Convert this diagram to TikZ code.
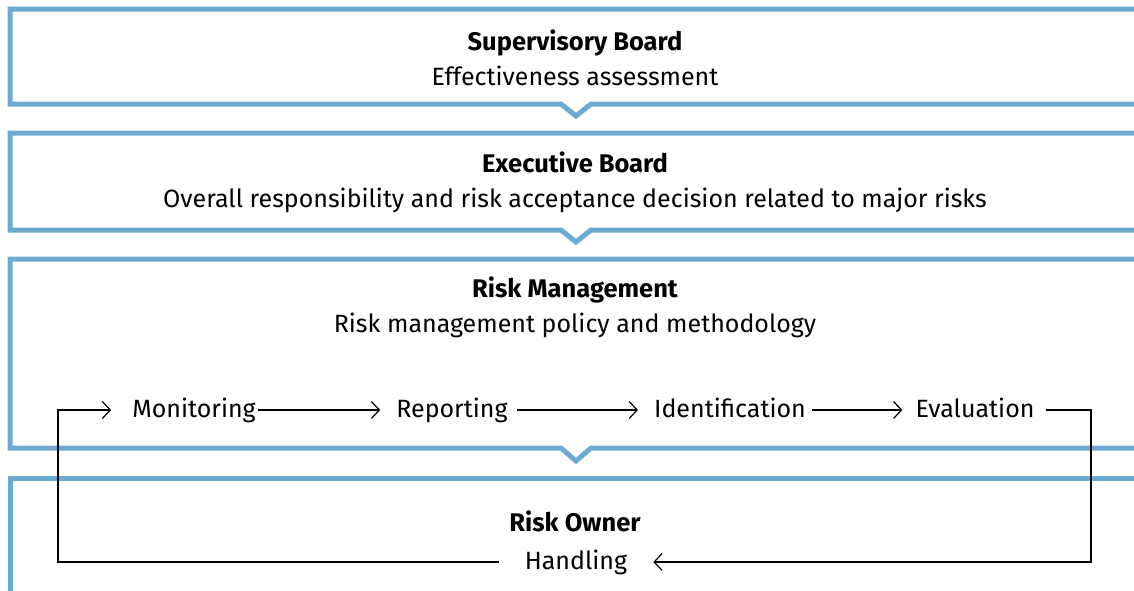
\documentclass[tikz,border=0pt]{standalone}
\usepackage{fontspec}
\setmainfont{Fira Sans}
\usepackage{xcolor}
\usetikzlibrary{positioning,arrows.meta}
\definecolor{bandblue}{RGB}{108,170,207}

\begin{document}
\begin{tikzpicture}[x=1pt,y=-1pt,font=\fontsize{25}{30}\selectfont,
  band/.style={draw=bandblue,line width=5pt},
  head/.style={font=\fontsize{25.5}{30}\selectfont\bfseries,inner sep=0pt,anchor=base},
  desc/.style={inner sep=0pt,anchor=base},
  stage/.style={inner sep=0pt,text height=18pt,text depth=4pt},
  flow/.style={-{Straight Barb[length=8pt,width=17pt]},line width=1.2pt}]
\useasboundingbox (0,0) rectangle (1134,590);
% layers
\draw[band] (1140,9) -- (10,9) -- (10,104) -- (561,104) -- (576,116) -- (591,104) -- (1140,104);
\draw[band] (1140,133) -- (10,133) -- (10,230) -- (561,230) -- (576,242) -- (591,230) -- (1140,230);
\draw[band] (1140,259) -- (10,259) -- (10,448) -- (561,448) -- (576,461) -- (591,448) -- (1140,448);
\draw[band] (1140,478) -- (10,478) -- (10,595);
% layer texts
\node[head] (sb) at (575,50) {Supervisory Board};
\node[desc] (sbtask) at (575,85) {Effectiveness assessment};
\node[head] (eb) at (575,172) {Executive Board};
\node[desc] (ebtask) at (575,207) {Overall responsibility and risk acceptance decision related to major risks};
\node[head] (rm) at (575,297) {Risk Management};
\node[desc] (rmtask) at (575,332) {Risk management policy and methodology};
\node[head] (ro) at (575,531) {Risk Owner};
% cycle
\node[stage] (mon) at (194,410) {Monitoring};
\node[stage] (rep) at (452,410) {Reporting};
\node[stage] (ide) at (730,410) {Identification};
\node[stage] (eva) at (975,410) {Evaluation};
\node[stage] (hand) at (576,562) {Handling};
\coordinate (er) at (1091,410);
\coordinate (ml) at (58,410);
\draw[flow,shorten <=2pt,shorten >=16pt] (mon) -- (rep);
\draw[flow,shorten <=9pt,shorten >=16pt] (rep) -- (ide);
\draw[flow,shorten <=6pt,shorten >=13pt] (ide) -- (eva);
\draw[flow,shorten <=11pt,shorten >=26pt] (eva) -- (er) |- (hand);
\draw[flow,shorten <=26pt,shorten >=21pt] (hand) -| (ml) -- (mon);
\end{tikzpicture}
\end{document}
